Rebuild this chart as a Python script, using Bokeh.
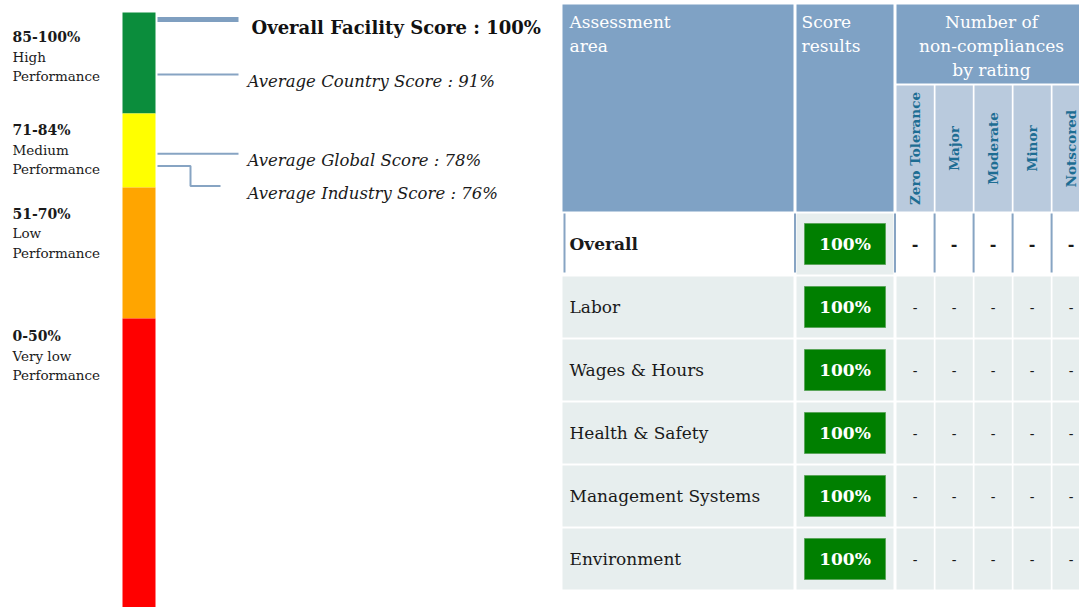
import numpy as np
from bokeh.plotting import figure
from bokeh.models import Range1d
from bokeh.core.properties import value
from bokeh.embed import file_html
from bokeh.resources import INLINE

# ---------------- data ----------------
band_ranges = ["85-100%", "71-84%", "51-70%", "0-50%"]
band_line1 = ["High", "Medium", "Low", "Very low"]
band_line2 = ["Performance", "Performance", "Performance", "Performance"]
band_colors = ["#0b8d3c", "#ffff00", "#ffa500", "#ff0000"]
band_top = [101.15, 84.6, 72.45, 51.0]
band_bottom = [84.6, 72.45, 51.0, 0.0]

marker_names = ["Overall Facility Score", "Average Country Score",
                "Average Global Score", "Average Industry Score"]
marker_scores = [100, 91, 78, 76]

areas = ["Overall", "Labor", "Wages & Hours", "Health & Safety",
         "Management Systems", "Environment"]
area_scores = [100, 100, 100, 100, 100, 100]
ratings = ["Zero Tolerance", "Major", "Moderate", "Minor", "Notscored"]
nc_zero_tolerance = [0, 0, 0, 0, 0, 0]
nc_major = [0, 0, 0, 0, 0, 0]
nc_moderate = [0, 0, 0, 0, 0, 0]
nc_minor = [0, 0, 0, 0, 0, 0]
nc_notscored = [0, 0, 0, 0, 0, 0]
nc_columns = [nc_zero_tolerance, nc_major, nc_moderate, nc_minor, nc_notscored]

# ---------------- styling / layout ----------------
SERIF = value("DejaVu Serif")
HEAD_DARK = "#7fa2c5"
HEAD_LIGHT = "#b9cadd"
CELL_BG = "#e7eeee"
LINE_BLUE = "#87a4c3"
SUB_TEXT = "#1d6d93"

W, H = 1079, 607
p = figure(width=W, height=H, x_range=Range1d(0, W), y_range=Range1d(H, 0),
           output_backend="svg", toolbar_location=None, min_border=0)
p.axis.visible = False
p.grid.visible = False
p.outline_line_color = None
p.background_fill_color = "white"
p.border_fill_color = "white"

# score scale: 6.1 px per percent, 100% at screen y 19
PX_PER = 6.1
p.extra_y_ranges = {"score": Range1d(start=100 - (H - 19) / PX_PER,
                                     end=100 + 19 / PX_PER)}

# ---- colour bar ----
p.quad(left=122, right=155, top=band_top, bottom=band_bottom,
       fill_color=band_colors, line_color=None, y_range_name="score")

label_off = [25, 17, 26, 18]
for i in range(len(band_ranges)):
    p.text(x=[12], y=[band_top[i]], text=[band_ranges[i]], y_range_name="score",
           y_offset=label_off[i], text_font=SERIF, text_font_style="bold",
           text_font_size="14px", text_baseline="middle", text_align="left",
           text_color="#1a1a1a")
    p.text(x=[12], y=[band_top[i]], text=[band_line1[i]], y_range_name="score",
           y_offset=label_off[i] + 19.5, text_font=SERIF,
           text_font_size="13.5px", text_baseline="middle", text_align="left",
           text_color="#1a1a1a")
    p.text(x=[12], y=[band_top[i]], text=[band_line2[i]], y_range_name="score",
           y_offset=label_off[i] + 39, text_font=SERIF,
           text_font_size="13.5px", text_baseline="middle", text_align="left",
           text_color="#1a1a1a")

# ---- markers ----
p.line(x=[157, 238], y=[marker_scores[0]] * 2, line_width=5, line_color="#7f9fc0",
       y_range_name="score")
p.text(x=[251], y=[marker_scores[0]], text=[f"{marker_names[0]} : {marker_scores[0]}%"],
       y_range_name="score", y_offset=8, text_font=SERIF, text_font_style="bold",
       text_font_size="18px", text_baseline="middle", text_color="#111111")
for k in (1, 2):
    p.line(x=[157, 238], y=[marker_scores[k]] * 2, line_width=2, line_color=LINE_BLUE,
           y_range_name="score")
    p.text(x=[247], y=[marker_scores[k]], text=[f"{marker_names[k]} : {marker_scores[k]}%"],
           y_range_name="score", y_offset=7, text_font=SERIF, text_font_style="italic",
           text_font_size="16.5px", text_baseline="middle", text_color="#1a1a1a")
drop = 20 / PX_PER
s = marker_scores[3]
p.line(x=[157, 190, 190, 220], y=[s, s, s - drop, s - drop], line_width=2,
       line_color=LINE_BLUE, y_range_name="score")
p.text(x=[247], y=[s - drop], text=[f"{marker_names[3]} : {s}%"],
       y_range_name="score", y_offset=8, text_font=SERIF, text_font_style="italic",
       text_font_size="16.5px", text_baseline="middle", text_color="#1a1a1a")

# ---- table ----
A_L, A_R = 562, 793
S_L, S_R = 796, 893
SUB0, SUB_PITCH, SUB_W = 896, 39.0, 37.3
sub_left = [SUB0 + SUB_PITCH * k for k in range(len(ratings))]
sub_center = [l + SUB_W / 2 for l in sub_left]
HEAD_TOP, GROUP_BOT, SUB_TOP, HEAD_BOT = 4, 83, 85, 211
ROW0, ROW_PITCH, ROW_H = 213, 63, 61
BOX_L, BOX_R = S_L + 8, S_R - 8

p.quad(left=[A_L, S_L, SUB0], right=[A_R, S_R, 1090], top=[HEAD_TOP] * 3,
       bottom=[HEAD_BOT, HEAD_BOT, GROUP_BOT], fill_color=HEAD_DARK, line_color=None)
p.quad(left=sub_left, right=[l + SUB_W for l in sub_left], top=[SUB_TOP] * 5,
       bottom=[HEAD_BOT] * 5, fill_color=HEAD_LIGHT, line_color=None)
for txt, yy in (("Assessment", 21), ("area", 45)):
    p.text(x=[A_L + 7], y=[yy], text=[txt], text_font=SERIF, text_font_size="17px",
           text_color="white", text_baseline="middle")
for txt, yy in (("Score", 21), ("results", 45)):
    p.text(x=[S_L + 5], y=[yy], text=[txt], text_font=SERIF, text_font_size="17px",
           text_color="white", text_baseline="middle")
for txt, yy in (("Number of", 21), ("non-compliances", 45), ("by rating", 69)):
    p.text(x=[SUB0 + 95], y=[yy], text=[txt], text_font=SERIF, text_font_size="17px",
           text_color="white", text_baseline="middle", text_align="center")
p.text(x=sub_center, y=[148] * 5, text=ratings, angle=np.pi / 2, text_font=SERIF,
       text_font_size="13.5px", text_font_style="bold", text_color=SUB_TEXT,
       text_baseline="middle", text_align="center")

for i, area in enumerate(areas):
    top = ROW0 + ROW_PITCH * i
    bot = top + ROW_H
    mid = top + ROW_H / 2
    first = (i == 0)
    bg = "white" if first else CELL_BG
    p.quad(left=[A_L] + sub_left, right=[A_R] + [l + SUB_W for l in sub_left],
           top=[top] * 6, bottom=[bot] * 6, fill_color=bg, line_color=None)
    p.quad(left=[S_L], right=[S_R], top=[top], bottom=[bot], fill_color=CELL_BG,
           line_color=None)
    p.text(x=[A_L + 7], y=[mid], text=[area], text_font=SERIF, text_font_size="17px",
           text_font_style="bold" if first else "normal", text_color="#1a1a1a",
           text_baseline="middle")
    p.quad(left=[BOX_L], right=[BOX_R], top=[mid - 20.5], bottom=[mid + 20.5],
           fill_color="#007f00", line_color="#5aa55a", line_width=1)
    p.text(x=[(BOX_L + BOX_R) / 2], y=[mid], text=[f"{area_scores[i]}%"], text_font=SERIF,
           text_font_size="17px", text_font_style="bold", text_color="white",
           text_baseline="middle", text_align="center")
    vals = [("-" if col[i] == 0 else str(col[i])) for col in nc_columns]
    p.text(x=sub_center, y=[mid] * 5, text=vals, text_font=SERIF,
           text_font_size="16px" if first else "14px",
           text_font_style="bold" if first else "normal", text_color="#1a1a1a",
           text_baseline="middle", text_align="center")
    if first:
        xs = [[x, x] for x in [A_L + 2, A_R + 1.5, S_R + 1.5] +
              [l + SUB_W + 0.8 for l in sub_left[:-1]]]
        ys = [[top, bot - 2]] * len(xs)
        p.multi_line(xs=xs, ys=ys, line_color=LINE_BLUE, line_width=2)

open("out.html", "w").write(file_html(p, INLINE))
